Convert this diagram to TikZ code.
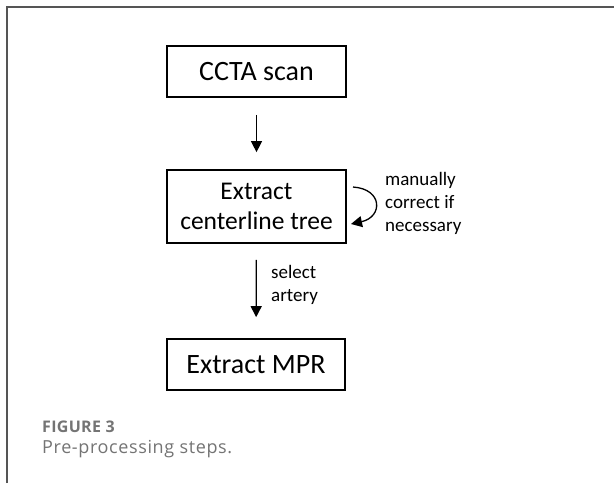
\documentclass[tikz,border=0pt]{standalone}
\usepackage{fontspec}
\setmainfont{Carlito}
\newfontfamily\capfont[LetterSpace=3.5]{Open Sans}
\newfontfamily\capheadfont[LetterSpace=2]{Open Sans}
\usetikzlibrary{arrows.meta}
\definecolor{framegray}{HTML}{555555}
\definecolor{captiongray}{HTML}{747474}
\tikzset{
  stepbox/.style={draw=black, line width=1.7pt, inner sep=0pt, align=center},
  flow/.style={draw=black, line width=1.3pt, -{Triangle[length=11pt,width=11pt]}},
  note/.style={anchor=west, align=left, inner sep=0pt,
               font=\fontsize{19}{23}\selectfont},
}
\begin{document}
\begin{tikzpicture}[x=1pt,y=-1pt]
  \useasboundingbox (0,0) rectangle (614,483);
  \fill[white] (0,0) rectangle (614,483);

  % panel frame (top and left edges)
  \draw[framegray, line width=1.6pt] (7,483) -- (7,7) -- (614,7);

  % process steps
  \node[stepbox, minimum width=179pt, minimum height=51pt,
        font=\fontsize{28}{30}\selectfont] (scan) at (256.5,71.5) {CCTA scan};
  \node[stepbox, minimum width=179pt, minimum height=73pt,
        font=\fontsize{25.5}{30}\selectfont] (tree) at (256.5,206.5)
        {Extract\\centerline tree};
  \node[stepbox, minimum width=178pt, minimum height=51pt,
        font=\fontsize{28}{30}\selectfont] (mpr) at (256,364.5) {Extract MPR};

  % connectors
  \draw[flow, shorten <=17pt, shorten >=17pt] (scan) -- (tree);
  \draw[flow, shorten <=16pt, shorten >=21pt] (tree) -- (mpr);

  % manual correction loop
  \coordinate (loopstart) at (353,187);
  \coordinate (loopend) at (351,224);
  \draw[flow] (loopstart) .. controls (383,189) and (383,217) .. (loopend);

  % annotations
  \node[note] (manual) at (385,203) {manually\\correct if\\necessary};
  \node[note] (select) at (271,285) {select\\artery};

  % caption
  \node[anchor=west, inner sep=0pt, text=captiongray,
        font=\capheadfont\bfseries\fontsize{16}{18}\selectfont] (fig) at (42,427) {FIGURE 3};
  \node[anchor=west, inner sep=0pt, text=captiongray,
        font=\capfont\fontsize{18}{20}\selectfont] (cap) at (42,449) {Pre-processing steps.};
\end{tikzpicture}
\end{document}
